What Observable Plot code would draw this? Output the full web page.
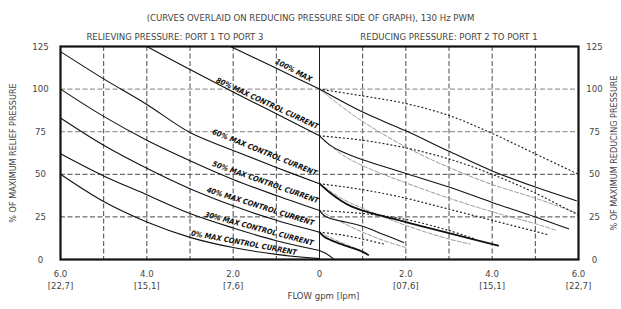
<!DOCTYPE html>
<html><head><meta charset="utf-8">
<script src="https://cdn.jsdelivr.net/npm/d3@7"></script>
<script src="https://cdn.jsdelivr.net/npm/@observablehq/plot@0.6"></script>
<style>
body{margin:0;background:#fff;}
svg{font-family:"Liberation Sans Narrow","DejaVu Sans Condensed","Liberation Sans",sans-serif;}
</style></head><body><div id="chart"></div>
<script>
// ---- axis ticks & text ----
const yTicks = [0, 25, 50, 75, 100, 125];
const xTickValues = [-6, -4, -2, 0, 2, 4, 6];
const xTickLabels = ["6.0\n[22,7]", "4.0\n[15,1]", "2.0\n[7,6]", "0", "2.0\n[07,6]", "4.0\n[15,1]", "6.0\n[22,7]"];
const gridX = [-5, -4, -3, -2, -1, 1, 2, 3, 4, 5];
const titleText = "(CURVES OVERLAID ON REDUCING PRESSURE SIDE OF GRAPH), 130 Hz PWM";
const leftHeader = "RELIEVING PRESSURE: PORT 1 TO PORT 3";
const rightHeader = "REDUCING PRESSURE: PORT 2 TO PORT 1";
const leftTitle = "% OF MAXIMUM RELIEF PRESSURE";
const rightTitle = "% OF MAXIMUM REDUCING PRESSURE";
const xTitle = "FLOW gpm [lpm]";

// ---- curve labels ----
const curveNames = ["100% MAX", "80% MAX CONTROL CURRENT", "60% MAX CONTROL CURRENT", "50% MAX CONTROL CURRENT", "40% MAX CONTROL CURRENT", "30% MAX CONTROL CURRENT", "0% MAX CONTROL CURRENT"];
const labelFlow = [-0.6, -1.21, -1.27, -1.25, -1.37, -1.4, -1.75];
const labelValue = [111, 91.6, 62.8, 45.3, 31.1, 18, 9.7];
const labelAngle = [28, 25, 22, 19.5, 17.5, 15, 10.5];

// ---- relieving pressure curves (left, flow shown as negative) ----
const relief100 = [[-2.06,125],[-1,112.2],[0,100]];
const relief80 = [[-4,125],[-3,111.5],[-2,98.3],[-1,85.5],[0,72.6]];
const relief60 = [[-6,122],[-5,106],[-4,91],[-3,74.5],[-2,64],[-1,54],[0,44.5]];
const relief50 = [[-6,100],[-5,84],[-4,70],[-3,58],[-2,47],[-1,37.5],[0,28.7]];
const relief40 = [[-6,83],[-5,67],[-4,53.5],[-3,41.5],[-2,31.5],[-1,23],[0,16]];
const relief30 = [[-6,62],[-5,49],[-4,38],[-3,27],[-2,18.5],[-1,11],[0,5.3]];
const relief0 = [[-6,50],[-5,34],[-4,22],[-3,13],[-2,7],[-1,3],[0,0.5]];

// ---- reducing pressure curves (right) ----
const reduce100 = [[0,100],[1,86.5],[2,75.5],[3,63.5],[4,52],[5,42.5],[5.95,34.5]];
const reduce80 = [[0,72.6],[0.25,67],[0.5,63.5],[1,58.5],[2,50.5],[3,42.5],[4,33.5],[5,25],[5.77,18]];
const reduce60 = [[0,44.5],[0.25,39],[0.5,34.5],[0.75,31],[1,28.7],[2,22],[3,15.5],[4.14,8.2]];
const reduce50 = [[0,28.7],[0.1,26],[0.25,24],[0.5,22.5],[1,19.5],[1.5,14.5],[1.95,10]];
const reduce40 = [[0,16],[0.1,13.5],[0.25,11.5],[0.5,9],[1,4.5],[1.13,2.7]];
const reduce30 = [[0,5.3],[0.15,3.5],[0.32,0.5]];

// dotted overlay curves
const dotted100 = [[0,100],[1,96],[2,91.5],[3,84.5],[4,74],[5,62],[6,50]];
const dotted80 = [[0,72.6],[1,70],[2,65.5],[3,59],[4,50],[5,39],[6,26]];
const dotted60 = [[0,44.5],[1,41],[2,36],[3,29.5],[4,23],[5,16.5],[5.3,14.5]];
const dotted50 = [[0,28.7],[1,27],[2,23.5],[3,17],[3.6,12]];
const dotted40 = [[0,16],[0.5,14.5],[1,12],[1.5,9]];

// gray dashed overlay curves
const dashed100 = [[0,100],[0.5,90],[1,81],[2,66],[3,54],[4,44],[5,36],[6,27]];
const dashed80 = [[0,72.6],[0.5,62],[1,55],[2,45],[3,36],[4,28],[5,21],[5.5,17]];
const dashed60 = [[0,44.5],[0.5,36],[1,30],[2,20],[3,12],[3.5,9]];
const dashed50 = [[0,28.7],[0.5,22],[1,16],[1.5,11],[2,7]];
const dashed40 = [[0,16],[0.5,10],[1,5]];

const toRows = (id, pts) => pts.map(([x, y]) => ({id, x, y}));
const solidRows = [
  ...toRows("r100", relief100), ...toRows("r80", relief80), ...toRows("r60", relief60),
  ...toRows("r50", relief50), ...toRows("r40", relief40), ...toRows("r30", relief30), ...toRows("r0", relief0),
  ...toRows("d100", reduce100), ...toRows("d80", reduce80), ...toRows("d50", reduce50), ...toRows("d30", reduce30)
];
const thickRows = [...toRows("d60", reduce60), ...toRows("d40", reduce40)];
const dottedRows = [...toRows("o100", dotted100), ...toRows("o80", dotted80), ...toRows("o60", dotted60), ...toRows("o50", dotted50), ...toRows("o40", dotted40)];
const dashedRows = [...toRows("g100", dashed100), ...toRows("g80", dashed80), ...toRows("g60", dashed60), ...toRows("g50", dashed50), ...toRows("g40", dashed40)];
const labels = curveNames.map((t, i) => ({t, x: labelFlow[i], y: labelValue[i], a: labelAngle[i]}));
const xTicks = xTickValues.map((v, i) => ({v, t: xTickLabels[i]}));

const textGray = "#444";

const chart = Plot.plot({
  width: 621, height: 309,
  marginLeft: 60, marginRight: 43, marginTop: 46, marginBottom: 50,
  x: {domain: [-6, 6], axis: null},
  y: {domain: [0, 125], axis: null},
  marks: [
    Plot.ruleX(gridX, {stroke: "#333", strokeDasharray: "5,2.5", strokeWidth: 0.9}),
    Plot.ruleY([25, 50], {stroke: "#333", strokeDasharray: "5,2.5", strokeWidth: 0.9}),
    Plot.ruleY([75, 100], {stroke: "#999", strokeDasharray: "5,2.5", strokeWidth: 1.2}),
    Plot.ruleX([0], {stroke: "#222", strokeWidth: 1}),
    Plot.line(dashedRows, {x: "x", y: "y", z: "id", curve: "catmull-rom", stroke: "#999", strokeWidth: 1, strokeDasharray: "4,2"}),
    Plot.line(dottedRows, {x: "x", y: "y", z: "id", curve: "catmull-rom", stroke: "#222", strokeWidth: 1.2, strokeDasharray: "1,3"}),
    Plot.line(solidRows, {x: "x", y: "y", z: "id", curve: "catmull-rom", stroke: "#111", strokeWidth: 1.1}),
    Plot.line(thickRows, {x: "x", y: "y", z: "id", curve: "catmull-rom", stroke: "#111", strokeWidth: 1.8}),
    Plot.frame({stroke: "#111", strokeWidth: 2.2}),
    Plot.text(labels, {x: "x", y: "y", text: "t", rotate: "a", fontSize: 7.5, fontWeight: "bold", fontStyle: "italic", fill: "#111", ariaLabel: "curve-labels"}),
    Plot.text(yTicks, {x: -6, y: d => d, text: d => String(d), dx: -20, fontSize: 9.5, fill: textGray, ariaLabel: "gray-text"}),
    Plot.text(yTicks, {x: 6, y: d => d, text: d => String(d), dx: 16, fontSize: 9.5, fill: textGray, ariaLabel: "gray-text"}),
    Plot.text(xTicks, {x: "v", y: 0, text: "t", dy: 9, lineAnchor: "top", lineHeight: 1.25, fontSize: 9.5, fill: textGray, ariaLabel: "gray-text"}),
    Plot.text([titleText], {frameAnchor: "top", dx: -9, dy: -32, fontSize: 9.5, fill: textGray, ariaLabel: "gray-text"}),
    Plot.text([leftHeader], {x: -3.35, frameAnchor: "top", dy: -13, fontSize: 9.5, fill: textGray, ariaLabel: "gray-text"}),
    Plot.text([rightHeader], {x: 3.0, frameAnchor: "top", dy: -13, fontSize: 9.5, fill: textGray, ariaLabel: "gray-text"}),
    Plot.text([leftTitle], {frameAnchor: "left", textAnchor: "middle", dx: -47, rotate: -90, fontSize: 9, fill: textGray, ariaLabel: "gray-text"}),
    Plot.text([rightTitle], {frameAnchor: "right", textAnchor: "middle", dx: 36, rotate: -90, fontSize: 9, fill: textGray, ariaLabel: "gray-text"}),
    Plot.text([xTitle], {frameAnchor: "bottom", dx: 4, dy: 39, fontSize: 9.5, fill: textGray, ariaLabel: "gray-text"})
  ]
});
d3.select(chart).selectAll('g[aria-label="gray-text"] text').style("letter-spacing", "0.3px");
document.getElementById("chart").appendChild(chart);
</script></body></html>
